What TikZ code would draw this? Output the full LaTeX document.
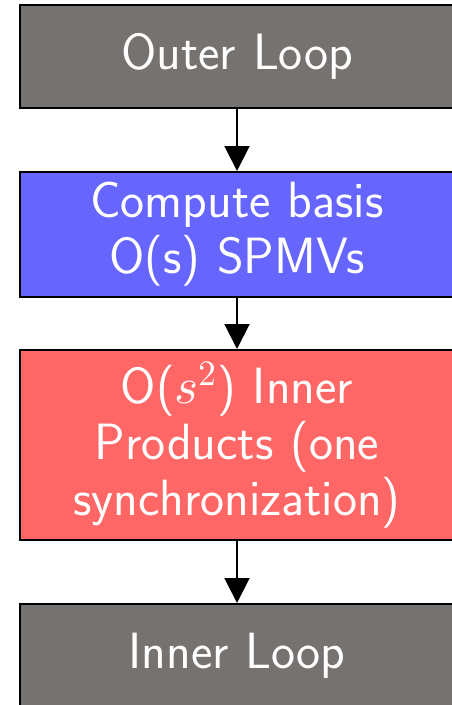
\documentclass[tikz,border=0pt]{standalone}
\usepackage{unicode-math}
\setmathfont{Latin Modern Math}
\usetikzlibrary{arrows.meta}
\definecolor{loopgray}{RGB}{118,114,112}
\definecolor{basisblue}{RGB}{102,102,255}
\definecolor{innerred}{RGB}{255,102,102}
\begin{document}
\begin{tikzpicture}[x=1pt,y=1pt,
  stage/.style={draw=black, line width=2pt, rectangle, minimum width=434pt,
    text width=430pt, align=center, text=white, inner sep=0pt,
    font=\sffamily\fontsize{51}{56}\selectfont},
  flow/.style={line width=2pt, -{Triangle[length=25pt,width=25pt]}}]
\useasboundingbox (0,0) rectangle (452,-705);
\node[stage, fill=loopgray, minimum height=103pt] (outer) at (237,-56.5) {Outer Loop};
\node[stage, fill=basisblue, minimum height=125pt] (basis) at (237,-234.5) {Compute basis\\O(s) SPMVs};
\node[stage, fill=innerred, minimum height=190pt] (inner) at (237,-445) {O($s^2$) Inner\\Products (one\\synchronization)};
\node[stage, fill=loopgray, minimum height=103pt] (loop) at (237,-655.5) {Inner Loop};
\draw[flow] (outer) -- (basis);
\draw[flow] (basis) -- (inner);
\draw[flow] (inner) -- (loop);
\end{tikzpicture}
\end{document}
